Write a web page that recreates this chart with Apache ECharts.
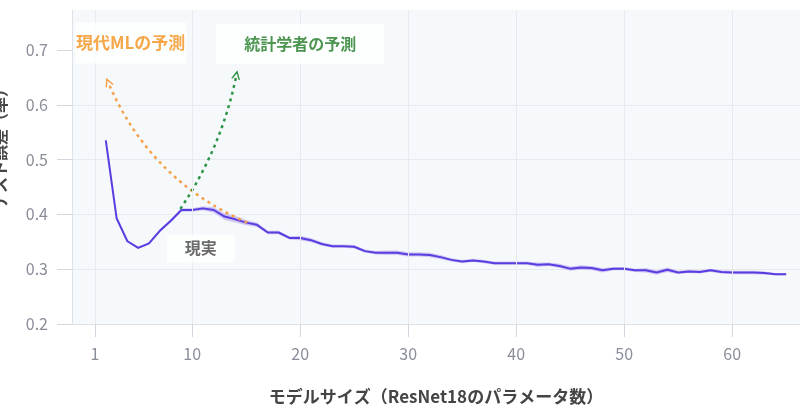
<!DOCTYPE html>
<html><head><meta charset="utf-8">
<script src="https://cdn.jsdelivr.net/npm/echarts@6/dist/echarts.min.js"></script>
<style>html,body{margin:0;padding:0;background:#fff}#c{width:800px;height:419px}</style>
</head><body><div id="c"></div>
<script>
// ---- data ----
const modelSize = [2,3,4,5,6,7,8,9,10,11,12,13,14,15,16,17,18,19,20,21,22,23,24,25,26,27,28,29,30,31,32,33,34,35,36,37,38,39,40,41,42,43,44,45,46,47,48,49,50,51,52,53,54,55,56,57,58,59,60,61,62,63,64,65];
const testError = [0.535,0.393,0.351,0.339,0.347,0.370,0.388,0.408,0.408,0.411,0.408,0.396,0.391,0.385,0.381,0.367,0.367,0.357,0.357,0.353,0.346,0.342,0.342,0.341,0.333,0.330,0.330,0.330,0.327,0.327,0.326,0.322,0.317,0.314,0.316,0.314,0.311,0.311,0.311,0.311,0.308,0.309,0.306,0.301,0.303,0.302,0.298,0.301,0.301,0.298,0.298,0.294,0.299,0.294,0.296,0.295,0.298,0.295,0.294,0.294,0.294,0.293,0.291,0.291];
const bandHalf = [0.002,0.002,0.002,0.002,0.002,0.003,0.003,0.003,0.003,0.004,0.005,0.006,0.006,0.005,0.004,0.003,0.003,0.003,0.004,0.004,0.003,0.003,0.003,0.003,0.003,0.003,0.004,0.004,0.004,0.004,0.004,0.004,0.003,0.003,0.003,0.003,0.003,0.003,0.003,0.003,0.004,0.003,0.004,0.004,0.004,0.004,0.004,0.003,0.003,0.003,0.004,0.004,0.004,0.003,0.003,0.003,0.003,0.003,0.003,0.003,0.003,0.003,0.002,0.002];
const xTicks = [1,10,20,30,40,50,60];
const yTicks = [0.2,0.3,0.4,0.5,0.6,0.7];
const mlArrow = [[15.1,0.385],[2.2,0.642]];
const statArrow = [[8.9,0.41],[14.1,0.655]];
const labelTexts = ['現代MLの予測','統計学者の予測','現実'];
const labelPos = [[4.3,0.713],[20.0,0.711],[10.8,0.338]];
const xName = 'モデルサイズ（ResNet18のパラメータ数）';
const yName = 'テスト誤差（率）';

// ---- chart ----
const chart = echarts.init(document.getElementById('c'), null, {renderer:'canvas'});
const pts = modelSize.map((x,i)=>[x,testError[i]]);
const chevron = 'path://M0,10L8,0L16,10L13.2,10L8,3.6L2.8,10Z';
const font = "'Noto Sans CJK JP', 'Noto Sans', sans-serif";
const labelStyles = [
  {color:'#f5911c',fontSize:17,fontWeight:'bold',padding:[12,1]},
  {color:'#1f7a26',fontSize:16,fontWeight:'bold',padding:[12,28]},
  {color:'#444444',fontSize:16,fontWeight:'bold',padding:[6,18]}
];
const option = {
  animation:false,
  grid:{left:72,right:0,top:10,bottom:95,show:true,backgroundColor:'#f6f9fb',borderWidth:0,outerBoundsMode:'none',containLabel:false},
  xAxis:{
    type:'value',min:-1.13,max:66.28,
    name:xName,nameLocation:'middle',nameGap:64,
    nameTextStyle:{fontFamily:font,fontSize:17,fontWeight:'bold',color:'#444'},
    axisLine:{show:true,onZero:false,lineStyle:{color:'#dde1e8'}},
    axisTick:{show:true,length:13,customValues:xTicks,lineStyle:{color:'#d3d7de'}},
    axisLabel:{customValues:xTicks,margin:22,fontFamily:font,fontSize:16,color:'#8a8e99'},
    splitLine:{show:false}
  },
  yAxis:{
    type:'value',min:0.2,max:0.773,interval:0.1,
    name:yName,nameLocation:'middle',nameGap:64,nameRotate:90,
    nameTextStyle:{fontFamily:font,fontSize:16,fontWeight:'bold',color:'#444',padding:[0,0,0,44]},
    axisLine:{show:true,onZero:false,lineStyle:{color:'#dde1e8'}},
    axisTick:{show:true,length:15,customValues:yTicks,lineStyle:{color:'#d3d7de'}},
    axisLabel:{customValues:yTicks,margin:24,fontFamily:font,fontSize:16,color:'#8a8e99',formatter:v=>(+v).toFixed(1)},
    splitLine:{show:true,showMaxLine:false,lineStyle:{color:'#e7eaef'}}
  },
  series:[
    {type:'custom',z:1,silent:true,data:[pts[0]],
     renderItem:(params,api)=>{
       const up = modelSize.map((x,i)=>api.coord([x,testError[i]+bandHalf[i]]));
       const dn = modelSize.map((x,i)=>api.coord([x,testError[i]-bandHalf[i]])).reverse();
       return {type:'polygon',shape:{points:up.concat(dn)},style:{fill:'rgba(150,125,235,0.4)'}};
     },
     markLine:{silent:true,symbol:['none','none'],label:{show:false},lineStyle:{color:'#e7eaef',width:1,type:'solid'},
       data:xTicks.map(v=>({xAxis:v}))}},
    {type:'line',data:pts,symbol:'none',lineStyle:{color:'#5a3de0',width:2},z:3},
    {type:'lines',coordinateSystem:'cartesian2d',z:4,silent:true,
     symbol:['none',chevron],symbolSize:[15,9],
     lineStyle:{color:'#f5a04a',width:2.5,type:[3,4],curveness:0.2,opacity:1},
     data:[{coords:mlArrow}]},
    {type:'lines',coordinateSystem:'cartesian2d',z:4,silent:true,
     symbol:['none',chevron],symbolSize:[15,9],
     lineStyle:{color:'#2e9447',width:2.5,type:[3,4],curveness:-0.1,opacity:1},
     data:[{coords:statArrow}]},
    {type:'scatter',z:5,silent:true,symbolSize:0,
     data:labelPos.map((p,i)=>({value:p,label:Object.assign({show:true,position:'inside',formatter:labelTexts[i],
        backgroundColor:'#ffffff',fontFamily:font},labelStyles[i])}))}
  ]
};
chart.setOption(option);
</script></body></html>
